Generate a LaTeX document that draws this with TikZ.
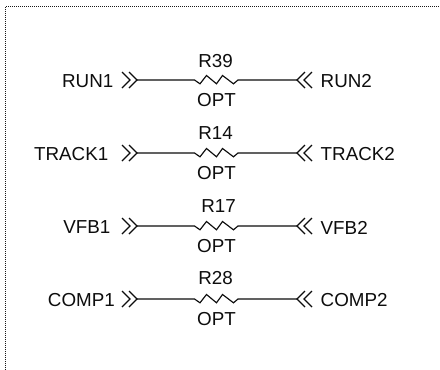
\documentclass[tikz,border=0pt]{standalone}
\usepackage{fontspec}
\setmainfont{Liberation Sans}
\tikzset{
  lbl/.style={inner sep=0pt,font=\fontsize{18.8}{21}\selectfont,text=black!95},
  wire/.style={line width=1.15pt,black!95},
  frameline/.style={line width=1.2pt,black!90,dash pattern=on 1pt off 1pt},
}
\begin{document}
\begin{tikzpicture}[x=1pt,y=-1pt]
\useasboundingbox (0,0) rectangle (440,370);
\fill[white] (0,0) rectangle (440,370);
\draw[frameline] (5.5,370) -- (5.5,6.5) -- (440,6.5);
\foreach \yy/\ln/\rn/\ref/\idx/\lx/\tx/\ty in {80/RUN1/RUN2/R39/a/113.5/215.5/18.5,153/TRACK1/TRACK2/R14/b/108.5/215.5/20,226/VFB1/VFB2/R17/c/110.5/218.5/20,299/COMP1/COMP2/R28/d/115/215.5/21}{
  \node[lbl,anchor=east] (l\idx) at (\lx,\yy+1.5) {\ln};
  \node[lbl,anchor=west] (r\idx) at (320.5,\yy+1.5) {\rn};
  \node[lbl] (t\idx) at (\tx,\yy-\ty) {\ref};
  \node[lbl] (o\idx) at (216.5,\yy+20) {OPT};
  \coordinate (pl\idx) at (137,\yy);
  \coordinate (pr\idx) at (297,\yy);
  \coordinate (rl\idx) at (194.5,\yy);
  \coordinate (rr\idx) at (238,\yy);
  \draw[wire] (122,\yy-8) -- (130,\yy) -- (122,\yy+8);
  \draw[wire] (129,\yy-8) -- (137,\yy) -- (129,\yy+8);
  \draw[wire] (312,\yy-8) -- (304,\yy) -- (312,\yy+8);
  \draw[wire] (305,\yy-8) -- (297,\yy) -- (305,\yy+8);
  \draw[wire] (pl\idx) -- (rl\idx) -- ++(5.5,3.8) -- ++(6.5,-8.3) -- ++(10,8.3) -- ++(6,-8.3) -- ++(11,8.3) -- (rr\idx) -- (pr\idx);
}
\end{tikzpicture}
\end{document}
